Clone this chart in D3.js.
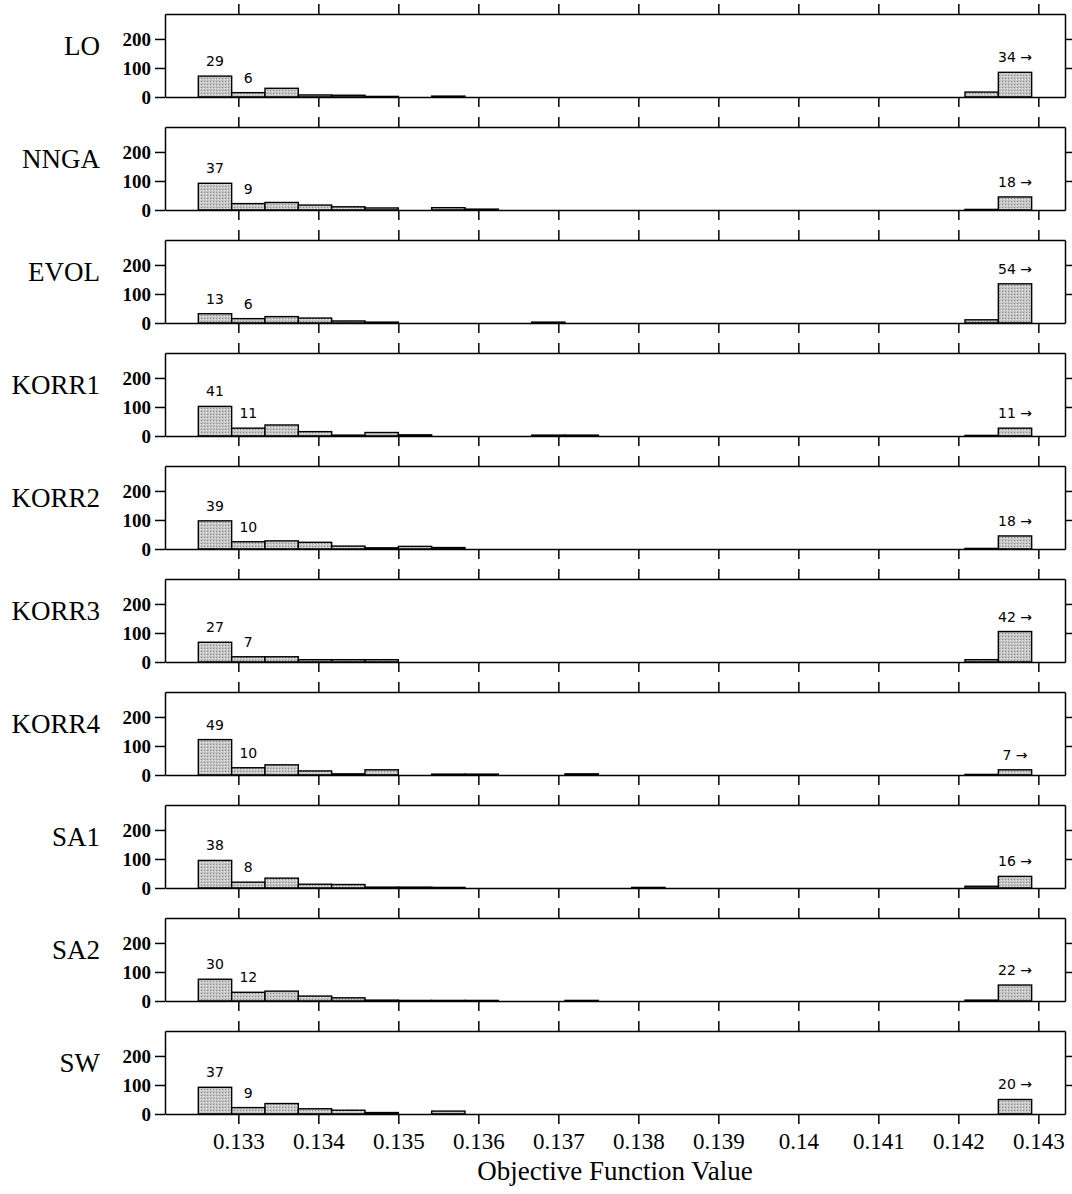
<!DOCTYPE html>
<html>
<head>
<meta charset="utf-8">
<script src="https://cdn.jsdelivr.net/npm/d3@7"></script>
<style>
  body { margin: 0; background: #fff; }
  svg { display: block; }
</style>
</head>
<body>
<svg id="chart" width="1072" height="1194"></svg>
<script>
// methods, top to bottom
const methods = ['LO', 'NNGA', 'EVOL', 'KORR1', 'KORR2', 'KORR3', 'KORR4', 'SA1', 'SA2', 'SW'];

// histogram bins: 25 bins of 0.0025/6 starting at 0.1325, last bin collects everything above
const binStart = 0.1325;
const binWidth = 0.0025 / 6;
const totalRuns = 250;

// counts per bin
const countsLO    = [72, 15, 30, 7, 6, 2, 0, 3, 0, 0, 0, 0, 0, 0, 0, 0, 0, 0, 0, 0, 0, 0, 0, 17, 85];
const countsNNGA  = [92, 22, 26, 17, 11, 7, 0, 8, 3, 0, 0, 0, 0, 0, 0, 0, 0, 0, 0, 0, 0, 0, 0, 2, 45];
const countsEVOL  = [32, 15, 22, 17, 7, 3, 0, 0, 0, 0, 3, 0, 0, 0, 0, 0, 0, 0, 0, 0, 0, 0, 0, 11, 135];
const countsKORR1 = [102, 27, 38, 15, 3, 12, 4, 0, 0, 0, 3, 3, 0, 0, 0, 0, 0, 0, 0, 0, 0, 0, 0, 2, 27];
const countsKORR2 = [97, 25, 28, 23, 10, 4, 9, 5, 0, 0, 0, 0, 0, 0, 0, 0, 0, 0, 0, 0, 0, 0, 0, 2, 45];
const countsKORR3 = [68, 18, 18, 8, 8, 8, 0, 0, 0, 0, 0, 0, 0, 0, 0, 0, 0, 0, 0, 0, 0, 0, 0, 8, 105];
const countsKORR4 = [122, 25, 35, 14, 4, 18, 0, 3, 3, 0, 0, 4, 0, 0, 0, 0, 0, 0, 0, 0, 0, 0, 0, 2, 18];
const countsSA1   = [95, 20, 34, 13, 12, 3, 3, 2, 0, 0, 0, 0, 0, 2, 0, 0, 0, 0, 0, 0, 0, 0, 0, 6, 40];
const countsSA2   = [75, 30, 34, 17, 11, 3, 2, 2, 2, 0, 0, 2, 0, 0, 0, 0, 0, 0, 0, 0, 0, 0, 0, 3, 55];
const countsSW    = [92, 22, 36, 18, 13, 5, 0, 10, 0, 0, 0, 0, 0, 0, 0, 0, 0, 0, 0, 0, 0, 0, 0, 0, 50];

const allCounts = [countsLO, countsNNGA, countsEVOL, countsKORR1, countsKORR2,
  countsKORR3, countsKORR4, countsSA1, countsSA2, countsSW];

const xTicks = [0.133, 0.134, 0.135, 0.136, 0.137, 0.138, 0.139, 0.14, 0.141, 0.142, 0.143];
const yTicks = [0, 100, 200];
const xTitle = 'Objective Function Value';

// layout
const left = 165, right = 1065;
const firstTop = 14, pitch = 113, panelH = 83;
const serif = 'Liberation Serif, Times New Roman, serif';
const barFill = '#b8b8b8';

const svg = d3.select('#chart');

// light stipple like the scanned fill
const defs = svg.append('defs');
const pat = defs.append('pattern')
  .attr('id', 'stipple')
  .attr('patternUnits', 'userSpaceOnUse')
  .attr('width', 3).attr('height', 3);
pat.append('rect').attr('width', 3).attr('height', 3).attr('fill', '#c4c4c4');
pat.append('rect').attr('x', 0).attr('y', 0).attr('width', 1).attr('height', 1).attr('fill', '#8a8a8a');
pat.append('rect').attr('x', 2).attr('y', 1).attr('width', 1).attr('height', 1).attr('fill', '#eeeeee');

const x = d3.scaleLinear()
  .domain([binStart - binWidth, binStart + 26 * binWidth])
  .range([left, right]);

const nBins = countsLO.length;

methods.forEach((name, i) => {
  const counts = allCounts[i];
  const top = firstTop + i * pitch;
  const y = d3.scaleLinear().domain([0, 286]).range([top + panelH, top]);
  const g = svg.append('g');

  const bins = counts.map((c, k) => ({
    k: k,
    x0: binStart + k * binWidth,
    x1: binStart + (k + 1) * binWidth,
    value: c
  }));

  // bars
  g.selectAll('rect.bar')
    .data(bins.filter(d => d.value > 0))
    .enter()
    .append('rect')
    .attr('class', 'bar')
    .attr('x', d => x(d.x0))
    .attr('y', d => y(d.value))
    .attr('width', d => x(d.x1) - x(d.x0))
    .attr('height', d => y(0) - y(d.value))
    .attr('fill', 'url(#stipple)')
    .attr('stroke', '#000')
    .attr('stroke-width', 1.4);

  // axes: left with labels, right / top without, bottom labelled only on last panel
  g.append('g')
    .attr('transform', `translate(${left},0)`)
    .call(d3.axisLeft(y).tickValues(yTicks).tickSize(10).tickSizeOuter(0).tickPadding(4))
    .attr('font-family', serif)
    .attr('font-size', 19)
    .attr('font-weight', 'bold');

  g.append('g')
    .attr('transform', `translate(${right},0)`)
    .call(d3.axisRight(y).tickValues([100, 200]).tickSize(7).tickSizeOuter(0).tickFormat(''));

  g.append('g')
    .attr('transform', `translate(0,${top})`)
    .call(d3.axisTop(x).tickValues(xTicks).tickSize(10).tickSizeOuter(0).tickFormat(''));

  const last = i === methods.length - 1;
  g.append('g')
    .attr('transform', `translate(0,${top + panelH})`)
    .call(d3.axisBottom(x).tickValues(xTicks).tickSize(10).tickSizeOuter(0).tickPadding(9)
      .tickFormat(last ? (d => String(+d.toFixed(3))) : ''))
    .attr('font-family', serif)
    .attr('font-size', 23);

  g.selectAll('.domain, .tick line')
    .attr('stroke', '#000')
    .attr('stroke-width', 1.5);

  // method name
  g.append('text')
    .attr('x', 100)
    .attr('y', top + 41)
    .attr('text-anchor', 'end')
    .attr('font-family', serif)
    .attr('font-size', 27)
    .text(name);

  // percentage labels on first two bins and the overflow bin
  const pct = c => Math.round(100 * c / totalRuns);
  const labelled = [
    { b: bins[0], text: String(pct(bins[0].value)) },
    { b: bins[1], text: String(pct(bins[1].value)) },
    { b: bins[nBins - 1], text: pct(bins[nBins - 1].value) + ' \u2192' }
  ];
  g.selectAll('text.pct')
    .data(labelled)
    .enter()
    .append('text')
    .attr('class', 'pct')
    .attr('x', d => (x(d.b.x0) + x(d.b.x1)) / 2)
    .attr('y', d => y(d.b.value) - 10)
    .attr('text-anchor', 'middle')
    .attr('font-family', 'DejaVu Sans, sans-serif')
    .attr('font-size', 14)
    .text(d => d.text);
});

// x axis title
svg.append('text')
  .attr('x', 615)
  .attr('y', 1180)
  .attr('text-anchor', 'middle')
  .attr('font-family', serif)
  .attr('font-size', 27)
  .text(xTitle);
</script>
</body>
</html>
